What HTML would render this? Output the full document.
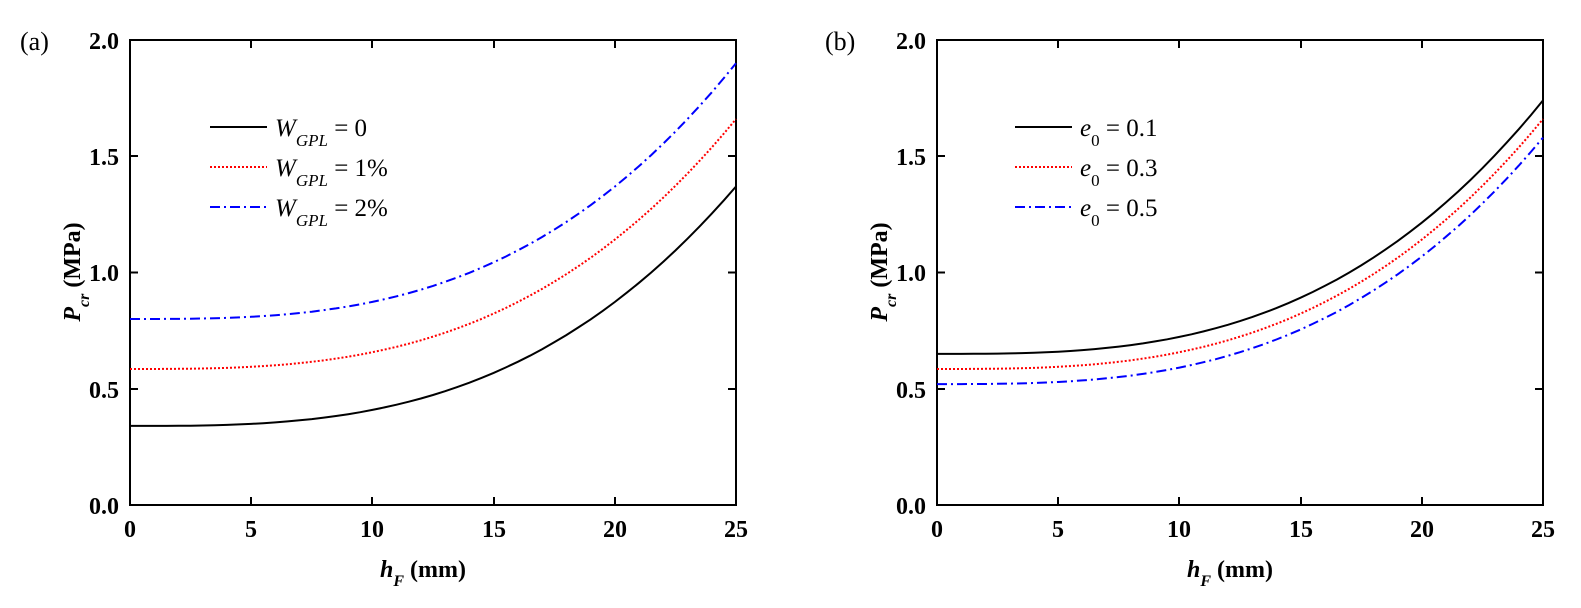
<!DOCTYPE html>
<html><head><meta charset="utf-8"><style>
html,body{margin:0;padding:0;background:#fff;}
svg{display:block;font-family:"Liberation Serif",serif;}
.t{font-size:24px;font-weight:bold;}
.lg{font-size:25px;}
</style></head><body>
<svg width="1581" height="608" viewBox="0 0 1581 608" xmlns="http://www.w3.org/2000/svg">
<text x="20" y="50" font-size="26">(a)</text>
<text x="825" y="50" font-size="26">(b)</text>
<g stroke="#000" stroke-width="2" fill="none">
<rect x="130" y="40" width="606" height="465"/>
<rect x="937" y="40" width="606" height="465"/>
</g>
<g stroke="#000" stroke-width="2">
<line x1="251" y1="505" x2="251" y2="497"/><line x1="372" y1="505" x2="372" y2="497"/><line x1="494" y1="505" x2="494" y2="497"/><line x1="615" y1="505" x2="615" y2="497"/>
<line x1="251" y1="40" x2="251" y2="48"/><line x1="372" y1="40" x2="372" y2="48"/><line x1="494" y1="40" x2="494" y2="48"/><line x1="615" y1="40" x2="615" y2="48"/>
<line x1="130" y1="156" x2="138" y2="156"/><line x1="130" y1="272.5" x2="138" y2="272.5"/><line x1="130" y1="389" x2="138" y2="389"/>
<line x1="736" y1="156" x2="728" y2="156"/><line x1="736" y1="272.5" x2="728" y2="272.5"/><line x1="736" y1="389" x2="728" y2="389"/>
<line x1="1058" y1="505" x2="1058" y2="497"/><line x1="1179" y1="505" x2="1179" y2="497"/><line x1="1301" y1="505" x2="1301" y2="497"/><line x1="1422" y1="505" x2="1422" y2="497"/>
<line x1="1058" y1="40" x2="1058" y2="48"/><line x1="1179" y1="40" x2="1179" y2="48"/><line x1="1301" y1="40" x2="1301" y2="48"/><line x1="1422" y1="40" x2="1422" y2="48"/>
<line x1="937" y1="156" x2="945" y2="156"/><line x1="937" y1="272.5" x2="945" y2="272.5"/><line x1="937" y1="389" x2="945" y2="389"/>
<line x1="1543" y1="156" x2="1535" y2="156"/><line x1="1543" y1="272.5" x2="1535" y2="272.5"/><line x1="1543" y1="389" x2="1535" y2="389"/>
</g>
<g class="t" text-anchor="middle">
<text x="130" y="537">0</text><text x="251" y="537">5</text><text x="372" y="537">10</text><text x="494" y="537">15</text><text x="615" y="537">20</text><text x="736" y="537">25</text>
<text x="937" y="537">0</text><text x="1058" y="537">5</text><text x="1179" y="537">10</text><text x="1301" y="537">15</text><text x="1422" y="537">20</text><text x="1543" y="537">25</text>
</g>
<g class="t" text-anchor="end">
<text x="119" y="49">2.0</text><text x="119" y="165">1.5</text><text x="119" y="281">1.0</text><text x="119" y="398">0.5</text><text x="119" y="514">0.0</text>
<text x="926" y="49">2.0</text><text x="926" y="165">1.5</text><text x="926" y="281">1.0</text><text x="926" y="398">0.5</text><text x="926" y="514">0.0</text>
</g>
<g class="t" font-size="25">
<text x="380" y="577"><tspan font-style="italic">h</tspan><tspan font-style="italic" font-size="16" baseline-shift="sub">F</tspan><tspan> (mm)</tspan></text>
<text x="1187" y="577"><tspan font-style="italic">h</tspan><tspan font-style="italic" font-size="16" baseline-shift="sub">F</tspan><tspan> (mm)</tspan></text>
<text transform="translate(80,272) rotate(-90)" text-anchor="middle"><tspan font-style="italic">P</tspan><tspan font-style="italic" font-size="16" baseline-shift="sub">cr</tspan><tspan> (MPa)</tspan></text>
<text transform="translate(887,272) rotate(-90)" text-anchor="middle"><tspan font-style="italic">P</tspan><tspan font-style="italic" font-size="16" baseline-shift="sub">cr</tspan><tspan> (MPa)</tspan></text>
</g>
<g stroke-width="2">
<line x1="210" y1="127" x2="267" y2="127" stroke="#000"/>
<line x1="210" y1="167" x2="267" y2="167" stroke="#f00" stroke-dasharray="2,2"/>
<line x1="210" y1="207" x2="267" y2="207" stroke="#00f" stroke-dasharray="10,4,2,4"/>
<line x1="1015" y1="127" x2="1072" y2="127" stroke="#000"/>
<line x1="1015" y1="167" x2="1072" y2="167" stroke="#f00" stroke-dasharray="2,2"/>
<line x1="1015" y1="207" x2="1072" y2="207" stroke="#00f" stroke-dasharray="10,4,2,4"/>
</g>
<g class="lg">
<text x="275" y="136"><tspan font-style="italic">W</tspan><tspan font-style="italic" font-size="17" baseline-shift="sub">GPL</tspan><tspan> = 0</tspan></text>
<text x="275" y="176"><tspan font-style="italic">W</tspan><tspan font-style="italic" font-size="17" baseline-shift="sub">GPL</tspan><tspan> = 1%</tspan></text>
<text x="275" y="216"><tspan font-style="italic">W</tspan><tspan font-style="italic" font-size="17" baseline-shift="sub">GPL</tspan><tspan> = 2%</tspan></text>
<text x="1080" y="136"><tspan font-style="italic">e</tspan><tspan font-size="17" baseline-shift="sub">0</tspan><tspan> = 0.1</tspan></text>
<text x="1080" y="176"><tspan font-style="italic">e</tspan><tspan font-size="17" baseline-shift="sub">0</tspan><tspan> = 0.3</tspan></text>
<text x="1080" y="216"><tspan font-style="italic">e</tspan><tspan font-size="17" baseline-shift="sub">0</tspan><tspan> = 0.5</tspan></text>
</g>
<g fill="none" stroke-width="2">
<path id="c1" stroke="#000"/><path id="c2" stroke="#f00" stroke-dasharray="2,2"/><path id="c3" stroke="#00f" stroke-dasharray="10,4,2,4"/>
<path id="c4" stroke="#000"/><path id="c5" stroke="#f00" stroke-dasharray="2,2"/><path id="c6" stroke="#00f" stroke-dasharray="10,4,2,4"/>
</g>
<script>
function mk(id,x0,a,b){var d="";for(var i=0;i<=50;i++){var h=i/50;var p=a+b*Math.pow(h,2.95);var x=x0+606*h;var y=505-p*232.5;d+=(i?"L":"M")+x.toFixed(1)+","+y.toFixed(1);}document.getElementById(id).setAttribute("d",d);}
mk("c1",130,0.34,1.03);mk("c2",130,0.585,1.075);mk("c3",130,0.80,1.10);
mk("c4",937,0.65,1.09);mk("c5",937,0.585,1.075);mk("c6",937,0.52,1.06);
</script>
</svg>
</body></html>
